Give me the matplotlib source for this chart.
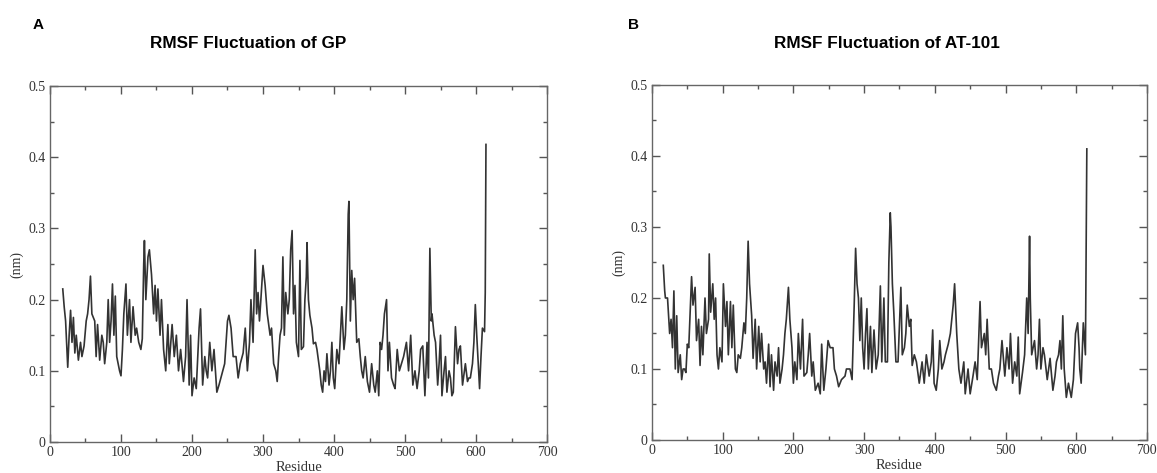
import matplotlib
matplotlib.use("Agg")
import matplotlib.pyplot as plt
from matplotlib.ticker import MultipleLocator

# RMSF of GP (panel A), residue -> nm
res_gp = [18, 20, 22, 25, 27, 29, 31, 33, 35, 37, 40, 43, 45, 48, 51, 53, 55, 57, 59, 61,
          63, 65, 67, 70, 73, 75, 77, 80, 82, 84, 86, 88, 90, 92, 94, 96, 98, 100, 102, 104,
          107, 109, 112, 114, 117, 120, 122, 125, 128, 130, 132, 133, 135, 138, 140, 143, 146, 148, 150, 152,
          155, 157, 160, 163, 166, 168, 172, 175, 178, 181, 184, 188, 191, 193, 196, 198, 200, 203, 206, 210,
          212, 215, 218, 220, 222, 225, 228, 231, 235, 238, 242, 246, 250, 252, 255, 258, 262, 265, 268, 272,
          275, 278, 281, 283, 286, 289, 291, 293, 295, 297, 300, 303, 306, 310, 312, 315, 318, 320, 322, 324,
          326, 328, 330, 332, 335, 337, 339, 341, 343, 345, 347, 350, 352, 354, 357, 359, 361, 362, 364, 366,
          369, 371, 374, 376, 378, 380, 382, 384, 386, 388, 390, 393, 395, 397, 399, 401, 404, 407, 409, 411,
          414, 416, 418, 420, 421, 423, 425, 427, 429, 432, 435, 437, 439, 441, 444, 447, 450, 453, 456, 458,
          461, 463, 465, 467, 469, 471, 474, 476, 478, 481, 484, 486, 489, 492, 495, 498, 502, 505, 508, 511,
          514, 517, 520, 522, 525, 528, 531, 533, 535, 537, 538, 541, 543, 546, 548, 550, 552, 555, 557, 559,
          562, 564, 566, 568, 571, 574, 576, 578, 581, 585, 588, 590, 592, 595, 597, 599, 601, 605, 607, 609,
          612, 613, 614]
rmsf_gp = [0.215, 0.19, 0.17, 0.105, 0.15, 0.185, 0.14, 0.175, 0.125, 0.15, 0.115, 0.14, 0.12, 0.135, 0.17, 0.18, 0.2, 0.233, 0.18, 0.175,
           0.17, 0.12, 0.165, 0.115, 0.15, 0.14, 0.11, 0.14, 0.2, 0.14, 0.17, 0.222, 0.15, 0.205, 0.12, 0.11, 0.1, 0.093, 0.13, 0.18,
           0.222, 0.15, 0.2, 0.14, 0.19, 0.15, 0.16, 0.14, 0.13, 0.145, 0.25, 0.283, 0.2, 0.26, 0.27, 0.235, 0.18, 0.22, 0.17, 0.215,
           0.15, 0.2, 0.13, 0.1, 0.165, 0.11, 0.165, 0.12, 0.15, 0.1, 0.13, 0.085, 0.12, 0.2, 0.08, 0.15, 0.065, 0.09, 0.075, 0.16,
           0.187, 0.08, 0.12, 0.1, 0.09, 0.14, 0.1, 0.13, 0.07, 0.08, 0.095, 0.11, 0.17, 0.178, 0.16, 0.12, 0.12, 0.09, 0.11, 0.125,
           0.16, 0.1, 0.14, 0.2, 0.14, 0.27, 0.18, 0.21, 0.17, 0.2, 0.248, 0.22, 0.18, 0.15, 0.16, 0.11, 0.1, 0.085, 0.12, 0.15,
           0.16, 0.26, 0.15, 0.21, 0.18, 0.2, 0.27, 0.297, 0.18, 0.22, 0.14, 0.12, 0.255, 0.13, 0.134, 0.2, 0.232, 0.28, 0.2, 0.178,
           0.16, 0.138, 0.14, 0.13, 0.115, 0.1, 0.08, 0.07, 0.1, 0.085, 0.124, 0.08, 0.1, 0.14, 0.09, 0.075, 0.13, 0.11, 0.15, 0.19,
           0.13, 0.15, 0.2, 0.32, 0.338, 0.17, 0.241, 0.2, 0.23, 0.14, 0.145, 0.12, 0.1, 0.09, 0.12, 0.085, 0.07, 0.11, 0.08, 0.07,
           0.1, 0.065, 0.14, 0.13, 0.15, 0.18, 0.2, 0.1, 0.14, 0.09, 0.08, 0.075, 0.13, 0.1, 0.11, 0.12, 0.14, 0.1, 0.15, 0.08,
           0.1, 0.075, 0.1, 0.13, 0.135, 0.065, 0.14, 0.09, 0.272, 0.17, 0.18, 0.15, 0.14, 0.08, 0.11, 0.15, 0.065, 0.1, 0.12, 0.07,
           0.1, 0.09, 0.065, 0.07, 0.162, 0.11, 0.13, 0.135, 0.08, 0.11, 0.085, 0.09, 0.09, 0.11, 0.14, 0.193, 0.15, 0.075, 0.12, 0.16,
           0.155, 0.21, 0.418]

# RMSF of AT-101 (panel B)
res_at = [16, 18, 19, 22, 25, 27, 29, 31, 33, 35, 37, 40, 42, 44, 46, 48, 50, 52, 54, 56,
          58, 61, 63, 66, 68, 70, 72, 75, 77, 80, 81, 83, 86, 88, 90, 92, 94, 96, 99, 101,
          104, 106, 108, 111, 113, 115, 118, 120, 122, 125, 127, 130, 132, 134, 136, 138, 141, 143, 146, 148,
          151, 153, 155, 158, 160, 162, 165, 167, 169, 172, 174, 177, 179, 181, 184, 186, 188, 190, 193, 195,
          198, 200, 202, 205, 207, 210, 213, 215, 219, 221, 223, 226, 228, 231, 235, 238, 240, 243, 246, 249,
          252, 256, 258, 261, 264, 268, 273, 275, 280, 283, 286, 288, 290, 292, 294, 296, 298, 300, 302, 304,
          306, 309, 311, 314, 317, 320, 323, 325, 328, 330, 333, 335, 337, 338, 340, 342, 345, 348, 352, 354,
          357, 359, 361, 364, 366, 368, 371, 374, 378, 382, 385, 388, 392, 395, 397, 399, 402, 405, 407, 410,
          413, 415, 419, 422, 426, 428, 431, 434, 437, 441, 443, 447, 450, 454, 457, 460, 464, 466, 470, 472,
          474, 477, 480, 483, 487, 490, 492, 495, 499, 502, 505, 507, 510, 513, 516, 518, 520, 524, 527, 530,
          532, 534, 535, 537, 541, 544, 546, 548, 550, 553, 555, 559, 563, 567, 570, 572, 575, 577, 579, 581,
          583, 586, 589, 591, 593, 596, 599, 602, 604, 605, 607, 610, 613, 615]
rmsf_at = [0.246, 0.21, 0.2, 0.2, 0.15, 0.17, 0.13, 0.21, 0.1, 0.175, 0.095, 0.12, 0.085, 0.1, 0.1, 0.095, 0.135, 0.13, 0.18, 0.23,
           0.19, 0.215, 0.14, 0.17, 0.105, 0.16, 0.12, 0.2, 0.15, 0.17, 0.262, 0.18, 0.22, 0.17, 0.2, 0.12, 0.1, 0.13, 0.11, 0.22,
           0.16, 0.195, 0.12, 0.195, 0.13, 0.19, 0.1, 0.095, 0.12, 0.115, 0.13, 0.165, 0.15, 0.2, 0.28, 0.22, 0.175, 0.115, 0.17, 0.1,
           0.16, 0.11, 0.15, 0.1, 0.11, 0.08, 0.135, 0.075, 0.12, 0.07, 0.11, 0.09, 0.13, 0.08, 0.1, 0.12, 0.15, 0.17, 0.215, 0.17,
           0.13, 0.08, 0.11, 0.085, 0.15, 0.1, 0.17, 0.09, 0.095, 0.12, 0.15, 0.09, 0.11, 0.07, 0.08, 0.065, 0.135, 0.07, 0.1, 0.14,
           0.13, 0.13, 0.1, 0.09, 0.075, 0.085, 0.09, 0.1, 0.1, 0.085, 0.19, 0.27, 0.22, 0.2, 0.14, 0.2, 0.13, 0.1, 0.15, 0.185,
           0.1, 0.16, 0.095, 0.155, 0.1, 0.12, 0.217, 0.11, 0.2, 0.11, 0.11, 0.25, 0.32, 0.3, 0.22, 0.18, 0.11, 0.11, 0.215, 0.12,
           0.13, 0.15, 0.19, 0.16, 0.17, 0.105, 0.12, 0.11, 0.08, 0.11, 0.08, 0.12, 0.09, 0.11, 0.155, 0.08, 0.07, 0.1, 0.14, 0.1,
           0.11, 0.12, 0.135, 0.15, 0.19, 0.22, 0.15, 0.1, 0.08, 0.11, 0.065, 0.1, 0.065, 0.09, 0.11, 0.085, 0.195, 0.13, 0.15, 0.12,
           0.17, 0.1, 0.1, 0.08, 0.07, 0.09, 0.1, 0.14, 0.09, 0.13, 0.1, 0.15, 0.08, 0.11, 0.09, 0.145, 0.065, 0.095, 0.12, 0.2,
           0.15, 0.287, 0.2, 0.12, 0.14, 0.1, 0.12, 0.17, 0.1, 0.13, 0.12, 0.085, 0.115, 0.07, 0.09, 0.11, 0.12, 0.14, 0.1, 0.175,
           0.1, 0.06, 0.08, 0.07, 0.06, 0.085, 0.15, 0.165, 0.13, 0.1, 0.08, 0.165, 0.12, 0.41]

titles = ["RMSF Fluctuation of GP", "RMSF Fluctuation of AT-101"]
letters = ["A", "B"]

serif = "Liberation Serif"
sans = "Liberation Sans"

fig = plt.figure(figsize=(11.57, 4.73), dpi=100)
axA = fig.add_axes([0.0432, 0.0655, 0.4296, 0.7526])
axB = fig.add_axes([0.5635, 0.0698, 0.4278, 0.7505])

for ax, x, y in [(axA, res_gp, rmsf_gp), (axB, res_at, rmsf_at)]:
    ax.plot(x, y, color="#333333", lw=1.2)
    ax.set_xlim(0, 700)
    ax.set_ylim(0, 0.5)
    ax.xaxis.set_major_locator(MultipleLocator(100))
    ax.xaxis.set_minor_locator(MultipleLocator(50))
    ax.yaxis.set_minor_locator(MultipleLocator(0.05))
    ax.set_yticks([0, 0.1, 0.2, 0.3, 0.4, 0.5])
    ax.set_yticklabels(["0", "0.1", "0.2", "0.3", "0.4", "0.5"])
    ax.tick_params(which="both", direction="in", top=True, right=True,
                   colors="#555555", labelcolor="#333333", labelsize=10, width=1.0)
    ax.tick_params(which="major", length=6, pad=3)
    ax.tick_params(which="minor", length=3)
    for lab in ax.get_xticklabels() + ax.get_yticklabels():
        lab.set_family(serif)
    for sp in ax.spines.values():
        sp.set_color("#666666")
        sp.set_linewidth(1.0)
    ax.set_xlabel("Residue", family=serif, fontsize=10.5, color="#333333", labelpad=1)
    ax.set_ylabel("(nm)", family=serif, fontsize=10, color="#333333", labelpad=4)

fig.text(0.028, 0.948, letters[0], family=sans, weight="bold", fontsize=11, va="center")
fig.text(0.543, 0.948, letters[1], family=sans, weight="bold", fontsize=11, va="center")
fig.text(0.2143, 0.908, titles[0], family=sans, weight="bold", fontsize=12.3, ha="center", va="center")
fig.text(0.767, 0.908, titles[1], family=sans, weight="bold", fontsize=12.3, ha="center", va="center")

fig.savefig("out.png", dpi=100)
